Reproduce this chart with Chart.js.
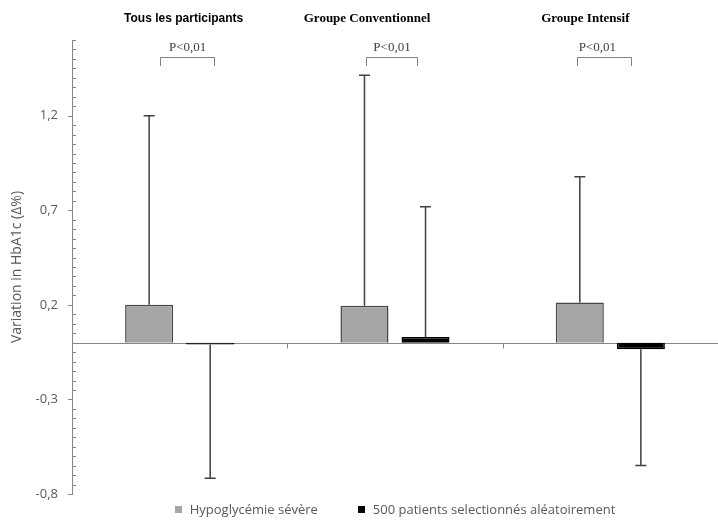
<!DOCTYPE html>
<html>
<head>
<meta charset="utf-8">
<script src="https://cdn.jsdelivr.net/npm/chart.js@4.4.1/dist/chart.umd.min.js"></script>
<style>
  html, body { margin: 0; padding: 0; background: #fff; }
  #graf { display: block; }
</style>
</head>
<body>
<canvas id="graf" width="718" height="522"></canvas>
<script>
// Données
const categories = ["Tous les participants", "Groupe Conventionnel", "Groupe Intensif"];
const seriesNames = ["Hypoglycémie sévère", "500 patients selectionnés aléatoirement"];
const hypoValues = [0.200, 0.195, 0.212];
const hypoErrorEnds = [1.200, 1.414, 0.877];
const randomValues = [-0.010, 0.030, -0.035];
const randomErrorEnds = [-0.717, 0.718, -0.649];
const pLabels = ["P<0,01", "P<0,01", "P<0,01"];
const majorTicks = [-0.8, -0.3, 0.2, 0.7, 1.2];

// Styles
const GRIS_AXE = "#868686";
const GRIS_TEXTE = "#595959";
const couleurs = ["#a6a6a6", "#000000"];
const titleFonts = ["bold 12px 'Liberation Sans'", "bold 13px 'Liberation Serif'", "bold 13px 'Liberation Serif'"];
const titleOffsets = [4, -28, -25];
const bracketSpans = [[-20, 34], [-29, 22], [-33, 21]];
const pOffsets = [8, -3, -13];

function isMajor(v) {
    return majorTicks.some(m => Math.abs(m - v) < 1e-6);
}

// Barres d'erreur (un seul côté, avec chapeau)
const errorBars = {
    id: "errorBars",
    afterDatasetsDraw(chart) {
        const ctx = chart.ctx;
        const y = chart.scales.y;
        const ends = [hypoErrorEnds, randomErrorEnds];
        ctx.save();
        ctx.strokeStyle = "#404040";
        ctx.lineWidth = 1.5;
        chart.data.datasets.forEach((ds, i) => {
            const meta = chart.getDatasetMeta(i);
            meta.data.forEach((bar, j) => {
                const yEnd = y.getPixelForValue(ends[i][j]);
                ctx.beginPath();
                ctx.moveTo(bar.x, bar.y);
                ctx.lineTo(bar.x, yEnd);
                ctx.moveTo(bar.x - 5.5, yEnd);
                ctx.lineTo(bar.x + 5.5, yEnd);
                ctx.stroke();
            });
        });
        ctx.restore();
    }
};

// Axes, graduations, titres, crochets et légende
const decor = {
    id: "decor",
    beforeDatasetsDraw(chart) {
        const ctx = chart.ctx;
        const area = chart.chartArea;
        const x = chart.scales.x;
        const y = chart.scales.y;
        ctx.save();
        ctx.strokeStyle = GRIS_AXE;
        ctx.lineWidth = 1;
        // graduations de l'axe Y
        y.ticks.forEach(t => {
            const py = Math.round(y.getPixelForValue(t.value)) + 0.5;
            ctx.beginPath();
            if (isMajor(t.value)) {
                ctx.moveTo(area.left - 4, py);
                ctx.lineTo(area.left, py);
            } else {
                ctx.moveTo(area.left, py);
                ctx.lineTo(area.left + 4, py);
            }
            ctx.stroke();
        });
        // ligne du zéro
        const y0 = Math.round(y.getPixelForValue(0)) + 0.5;
        ctx.beginPath();
        ctx.moveTo(area.left, y0);
        ctx.lineTo(area.right, y0);
        ctx.stroke();
        // séparateurs de catégories
        const half = (x.getPixelForValue(1) - x.getPixelForValue(0)) / 2;
        for (let i = 0; i < categories.length - 1; i++) {
            const px = Math.round(x.getPixelForValue(i) + half) + 0.5;
            ctx.beginPath();
            ctx.moveTo(px, y0);
            ctx.lineTo(px, y0 + 5);
            ctx.stroke();
        }
        ctx.restore();
    },
    afterDraw(chart) {
        const ctx = chart.ctx;
        const area = chart.chartArea;
        const x = chart.scales.x;
        ctx.save();
        ctx.textAlign = "center";
        ctx.textBaseline = "middle";
        categories.forEach((cat, i) => {
            const cx = x.getPixelForValue(i);
            ctx.fillStyle = "#000";
            ctx.font = titleFonts[i];
            ctx.fillText(cat, cx + titleOffsets[i], 19);
            // crochet de significativité
            const x1 = Math.round(cx + bracketSpans[i][0]) + 0.5;
            const x2 = Math.round(cx + bracketSpans[i][1]) + 0.5;
            ctx.strokeStyle = "#808080";
            ctx.lineWidth = 1;
            ctx.beginPath();
            ctx.moveTo(x1, 66);
            ctx.lineTo(x1, 57.5);
            ctx.lineTo(x2, 57.5);
            ctx.lineTo(x2, 66);
            ctx.stroke();
            ctx.fillStyle = "#404040";
            ctx.font = "13px 'Liberation Serif'";
            ctx.fillText(pLabels[i], cx + pOffsets[i], 48);
        });

        // légende en bas, centrée sur la zone du graphique
        ctx.font = "13px 'Open Sans'";
        ctx.textAlign = "left";
        const boite = 7, ecart = 8, entre = 40;
        const largeurs = chart.data.datasets.map(ds => ctx.measureText(ds.label).width);
        const total = largeurs.reduce((s, w) => s + boite + ecart + w, 0) + entre * (largeurs.length - 1);
        let lx = (area.left + area.right) / 2 - total / 2;
        const ly = 510.5;
        chart.data.datasets.forEach((ds, i) => {
            ctx.fillStyle = ds.backgroundColor;
            ctx.fillRect(Math.round(lx), 506, boite, boite);
            ctx.fillStyle = GRIS_TEXTE;
            ctx.fillText(ds.label, lx + boite + ecart, ly);
            lx += boite + ecart + largeurs[i] + entre;
        });
        ctx.restore();
    }
};

Chart.defaults.font.family = "'Open Sans', sans-serif";

new Chart(document.getElementById("graf"), {
    type: "bar",
    data: {
        labels: categories,
        datasets: [
            {
                label: seriesNames[0],
                data: hypoValues,
                backgroundColor: couleurs[0],
                borderColor: "#474747",
                borderWidth: 1.5
            },
            {
                label: seriesNames[1],
                data: randomValues,
                backgroundColor: couleurs[1],
                borderColor: "#000000",
                borderWidth: 1.5
            }
        ]
    },
    options: {
        responsive: false,
        devicePixelRatio: 1,
        animation: false,
        categoryPercentage: 0.567,
        barPercentage: 0.787,
        layout: { padding: { top: 40, right: 0, bottom: 28, left: 0 } },
        plugins: {
            tooltip: { enabled: false },
            legend: { display: false }
        },
        scales: {
            x: { display: false },
            y: {
                min: -0.8,
                max: 1.6,
                afterFit(scale) { scale.width = 72; },
                grid: { display: false, drawTicks: false },
                border: { display: true, color: GRIS_AXE, width: 1 },
                ticks: {
                    stepSize: 0.05,
                    autoSkip: false,
                    padding: 14,
                    color: GRIS_TEXTE,
                    font: { size: 13 },
                    callback: (v) => isMajor(v) ? v.toFixed(1).replace(".", ",") : ""
                },
                title: {
                    display: true,
                    text: "Variation in HbA1c (Δ%)",
                    color: GRIS_TEXTE,
                    font: { size: 14 },
                    padding: { top: 9, bottom: 0 }
                }
            }
        }
    },
    plugins: [decor, errorBars]
});
</script>
</body>
</html>
